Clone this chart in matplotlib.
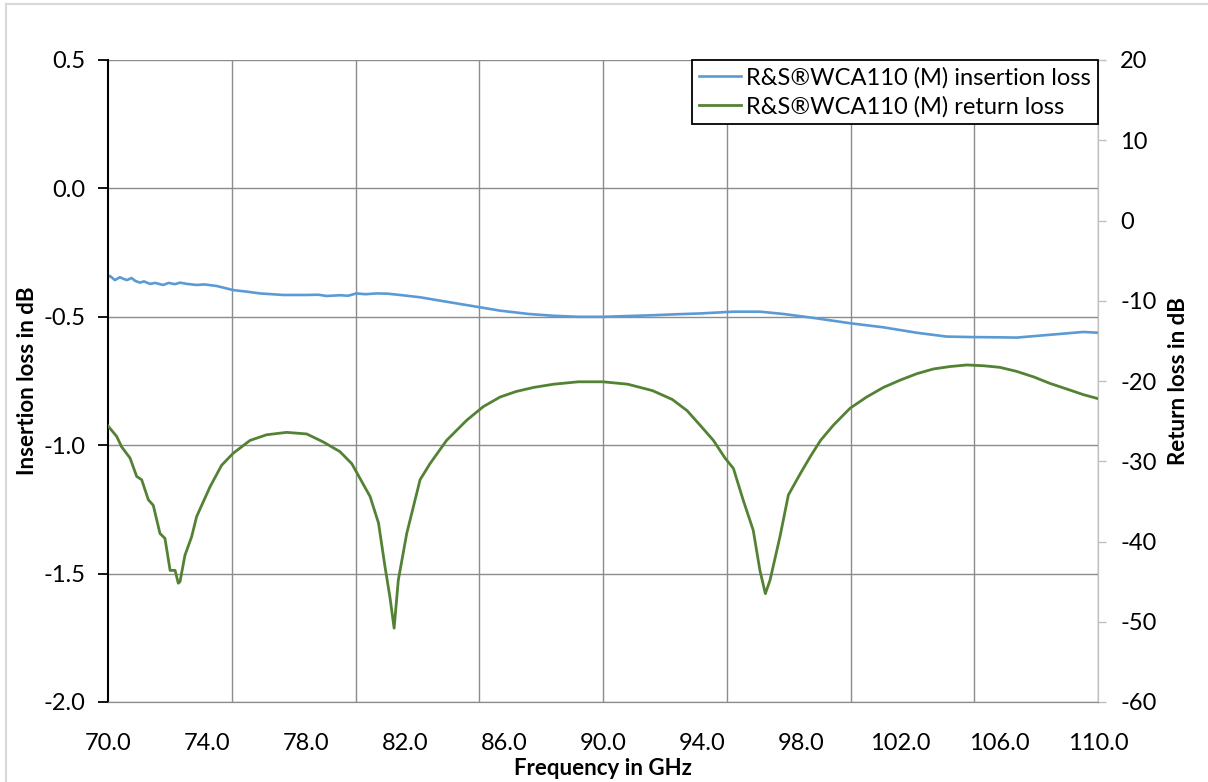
import matplotlib
matplotlib.use('Agg')
import matplotlib.pyplot as plt
from matplotlib.lines import Line2D
import numpy as np

plt.rcParams['font.family'] = ['Lato', 'DejaVu Sans']

# insertion loss (left axis)
il_freq = [70.0, 70.08, 70.28, 70.48, 70.62, 70.76, 70.95, 71.1, 71.29, 71.45, 71.7, 71.9,
           72.23, 72.45, 72.7, 72.91, 73.2, 73.58, 73.9, 74.39, 75.06, 75.6, 76.14, 77.08,
           78.03, 78.5, 78.83, 79.37, 79.7, 80.04, 80.4, 80.85, 81.3, 81.8, 82.61, 83.41,
           84.22, 85.03, 85.84, 87.0, 88.0, 89.0, 90.0, 91.0, 92.0, 93.0, 93.92, 95.27,
           96.34, 97.29, 98.63, 99.98, 101.33, 102.67, 103.88, 104.96, 106.04, 106.71,
           108.06, 109.41, 110.0]
il_db = [-0.345, -0.341, -0.357, -0.346, -0.352, -0.357, -0.349, -0.36, -0.367, -0.362,
         -0.372, -0.368, -0.376, -0.368, -0.373, -0.367, -0.372, -0.376, -0.374, -0.380,
         -0.396, -0.402, -0.409, -0.415, -0.415, -0.414, -0.419, -0.416, -0.418, -0.409,
         -0.412, -0.409, -0.410, -0.415, -0.424, -0.437, -0.450, -0.463, -0.476, -0.489,
         -0.496, -0.500, -0.500, -0.497, -0.494, -0.490, -0.487, -0.480, -0.480, -0.489,
         -0.506, -0.525, -0.541, -0.562, -0.577, -0.579, -0.580, -0.581, -0.570, -0.559,
         -0.562]

# return loss (right axis)
rl_freq = [70.0, 70.08, 70.35, 70.55, 70.89, 71.16, 71.36, 71.63, 71.83, 72.10, 72.30,
           72.51, 72.71, 72.84, 72.91, 73.11, 73.38, 73.58, 74.12, 74.59, 75.06, 75.74,
           76.41, 77.22, 78.03, 78.70, 79.37, 79.85, 80.59, 80.93, 81.19, 81.39, 81.56,
           81.73, 82.07, 82.61, 83.01, 83.68, 84.49, 85.16, 85.84, 86.5, 87.2, 88.0,
           89.0, 90.0, 91.0, 92.0, 92.8, 93.4, 93.92, 94.46, 94.93, 95.27, 95.66, 96.07,
           96.34, 96.56, 96.75, 97.15, 97.49, 97.98, 98.38, 98.79, 99.31, 99.98, 100.65,
           101.33, 102.0, 102.67, 103.35, 104.02, 104.70, 105.37, 106.04, 106.71, 107.41,
           108.06, 108.74, 109.41, 110.0]
rl_db = [-25.6, -25.9, -26.9, -28.2, -29.6, -31.9, -32.3, -34.8, -35.5, -39.0, -39.6,
         -43.6, -43.6, -45.2, -45.0, -41.7, -39.4, -36.9, -33.2, -30.5, -29.0, -27.4,
         -26.7, -26.4, -26.6, -27.6, -28.8, -30.3, -34.4, -37.7, -43.1, -46.9, -50.8,
         -44.8, -39.0, -32.3, -30.3, -27.4, -24.9, -23.2, -22.0, -21.3, -20.8, -20.4,
         -20.1, -20.1, -20.4, -21.2, -22.3, -23.7, -25.5, -27.4, -29.6, -30.9, -34.8,
         -38.6, -43.6, -46.5, -44.8, -39.4, -34.2, -31.5, -29.4, -27.4, -25.5, -23.4,
         -22.0, -20.8, -19.9, -19.1, -18.5, -18.2, -18.0, -18.1, -18.3, -18.8, -19.5,
         -20.3, -21.0, -21.7, -22.2]

x_labels = np.arange(70, 111, 4)
x_grid = np.arange(75, 111, 5)
left_ticks = np.arange(-2.0, 0.51, 0.5)
right_ticks = np.arange(-60, 21, 10)

blue = '#5B9BD5'
green = '#548235'
grid_col = '#8c8c8c'
fs = 17

fig = plt.figure(figsize=(12.08, 7.82), dpi=100)
ax1 = fig.add_axes([108 / 1208, 1 - 702 / 782, 990 / 1208, 642 / 782])
ax2 = ax1.twinx()

ax1.plot(il_freq, il_db, color=blue, lw=1.9)
ax2.plot(rl_freq, rl_db, color=green, lw=2.0)

ax1.set_xlim(70, 110)
ax1.set_ylim(-2.0, 0.5)
ax2.set_ylim(-60, 20)

ax1.set_xticks(x_labels)
ax1.set_xticklabels([f'{v:.1f}' for v in x_labels], fontsize=fs)
ax1.tick_params(axis='x', length=0, pad=22)
ax1.set_yticks(left_ticks)
ax1.set_yticklabels([f'{v:.1f}' for v in left_ticks], fontsize=fs)
ax1.tick_params(axis='y', length=7, width=1.3, color='black', pad=9)
ax2.set_yticks(right_ticks)
ax2.set_yticklabels([f'{v:d}' for v in right_ticks], fontsize=fs)
ax2.tick_params(axis='y', length=6, width=1, color='#bfbfbf', pad=10)

ax1.grid(True, axis='y', color=grid_col, lw=1)
for g in x_grid:
    ax1.axvline(g, color=grid_col, lw=1, zorder=0.5)

for ax in (ax1, ax2):
    ax.spines['top'].set_visible(False)
    ax.spines['bottom'].set_color(grid_col)
    ax.spines['right'].set_color('#bfbfbf')
    ax.spines['left'].set_visible(False)
ax1.spines['left'].set_visible(True)
ax1.spines['left'].set_color('black')
ax1.spines['left'].set_linewidth(1.5)
ax2.spines['right'].set_visible(True)

ax1.set_xlabel('Frequency in GHz', fontsize=16, fontweight='bold', labelpad=3)
ax1.set_ylabel('Insertion loss in dB', fontsize=16, fontweight='bold', labelpad=4)
ax2.set_ylabel('Return loss in dB', fontsize=16, fontweight='bold', labelpad=8)

handles = [Line2D([], [], color=blue, lw=1.9), Line2D([], [], color=green, lw=2.0)]
leg = ax2.legend(handles, ['R&S®WCA110 (M) insertion loss', 'R&S®WCA110 (M) return loss'],
                 loc='upper right', borderaxespad=0, fontsize=fs, fancybox=False,
                 framealpha=1, edgecolor='black', handlelength=1.8, handletextpad=0.2,
                 labelspacing=0.3, borderpad=0.3)
leg.get_frame().set_linewidth(1.3)

# outer chart border
fig.add_artist(Line2D([6 / 1208, 6 / 1208], [0, 1 - 4 / 782], color='#d9d9d9', lw=1.5))
fig.add_artist(Line2D([6 / 1208, 1], [1 - 4 / 782, 1 - 4 / 782], color='#d9d9d9', lw=1.5))

plt.savefig('out.png', dpi=100)
